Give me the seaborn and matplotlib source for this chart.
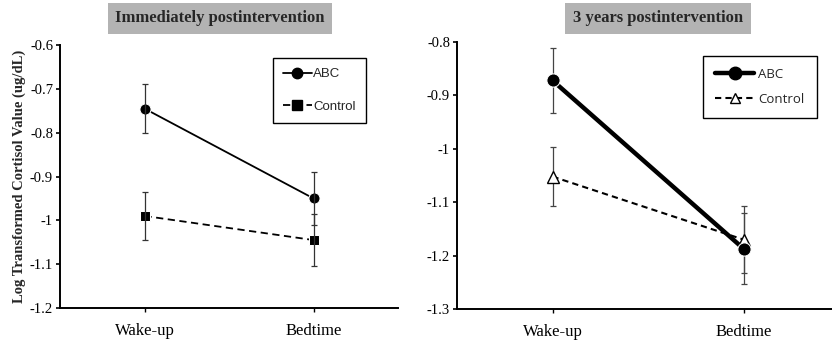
import pandas as pd
import seaborn as sns
import matplotlib
matplotlib.use("Agg")
import matplotlib.pyplot as plt
from matplotlib.lines import Line2D

# data
times = ["Wake-up", "Bedtime"]
groups = ["ABC", "Control"]

imm_abc = [-0.745, -0.950]
imm_abc_err = [0.055, 0.060]
imm_ctrl = [-0.990, -1.045]
imm_ctrl_err = [0.055, 0.060]

yr3_abc = [-0.872, -1.187]
yr3_abc_err = [0.061, 0.066]
yr3_ctrl = [-1.052, -1.170]
yr3_ctrl_err = [0.056, 0.062]

imm_yticks = [-0.6, -0.7, -0.8, -0.9, -1.0, -1.1, -1.2]
yr3_yticks = [-0.8, -0.9, -1.0, -1.1, -1.2, -1.3]

sns.set_style("ticks")
plt.rcParams["font.family"] = ["Liberation Serif", "DejaVu Serif"]

fig = plt.figure(figsize=(8.32, 3.41), dpi=100)
W, H = 832.0, 341.0


def ax_at(x0, y0, x1, y1):
    return fig.add_axes([x0 / W, 1 - y1 / H, (x1 - x0) / W, (y1 - y0) / H])


def tick_fmt(v):
    s = ("%.1f" % v)
    if s.endswith(".0"):
        s = s[:-2]
    return s


def style_axis(ax, yticks, ylim):
    ax.set_xlim(-0.5, 1.5)
    ax.set_ylim(*ylim)
    ax.set_xticks([0, 1])
    ax.set_xticklabels(times, fontsize=12)
    ax.set_yticks(yticks)
    ax.set_yticklabels([tick_fmt(v) for v in yticks], fontsize=10.5)
    ax.set_xlabel("")
    ax.set_ylabel("")
    for s in ["top", "right"]:
        ax.spines[s].set_visible(False)
    for s in ["left", "bottom"]:
        ax.spines[s].set_linewidth(1.4)
        ax.spines[s].set_color("black")
    ax.tick_params(axis="y", direction="out", length=3, width=1.2, pad=2, colors="black")
    ax.tick_params(axis="x", direction="out", length=3, width=1.0, pad=8, colors="black")


def title_box(x_center, text):
    fig.text(x_center / W, 1 - 18 / H, text, ha="center", va="center",
             fontsize=12, fontweight="bold", family=["Liberation Serif"],
             bbox=dict(boxstyle="square,pad=0.45", facecolor="#b3b3b3", edgecolor="none"))


# styles per panel and group
imm_style = {
    "ABC": dict(color="black", lw=1.3, ls="-", marker="o", ms=8),
    "Control": dict(color="black", lw=1.3, ls=(0, (4, 2.5)), marker="s", ms=7.5),
}
yr3_style = {
    "ABC": dict(color="black", lw=3.2, ls="-", marker="o", ms=9.5),
    "Control": dict(color="black", lw=1.5, ls=(0, (3, 2)), marker="^", ms=8,
                    mfc="white", mec="black", mew=1.0),
}


def handles_for(styles, ms_override):
    out = []
    for g in groups:
        st = dict(styles[g])
        st["ms"] = ms_override[g]
        out.append(Line2D([], [], **st))
    return out


# ---- left panel: immediately postintervention ----
ax1 = ax_at(60, 45, 398, 308)
df_imm = pd.DataFrame({
    "time": [0, 1, 0, 1],
    "value": imm_abc + imm_ctrl,
    "group": ["ABC"] * 2 + ["Control"] * 2,
})
for g in groups:
    sns.lineplot(data=df_imm[df_imm.group == g], x="time", y="value", ax=ax1,
                 legend=False, **imm_style[g])
ax1.errorbar([0, 1], imm_abc, yerr=imm_abc_err, fmt="none", ecolor="#333333",
             elinewidth=0.9, capsize=2.5, capthick=0.9)
ax1.errorbar([0, 1], imm_ctrl, yerr=imm_ctrl_err, fmt="none", ecolor="#333333",
             elinewidth=0.9, capsize=2.5, capthick=0.9)
style_axis(ax1, imm_yticks, (-1.2, -0.6))
ax1.set_ylabel("Log Transformed Cortisol Value (ug/dL)", fontsize=10.5,
               fontweight="bold", labelpad=3)
leg1 = ax1.legend(handles_for(imm_style, {"ABC": 7.5, "Control": 7.5}), groups,
                  loc="upper left", bbox_to_anchor=(273 / W, 1 - 58 / H),
                  bbox_transform=fig.transFigure, borderaxespad=0, frameon=True,
                  fancybox=False, edgecolor="black", framealpha=1,
                  prop={"family": "Liberation Sans", "size": 9.5},
                  handlelength=2.2, handletextpad=0.1, labelspacing=1.55,
                  borderpad=0.75)
leg1.get_frame().set_linewidth(1.0)
title_box(220, "Immediately postintervention")

# ---- right panel: 3 years postintervention ----
ax2 = ax_at(457, 42, 839, 309)
df_yr3 = pd.DataFrame({
    "time": [0, 1, 0, 1],
    "value": yr3_abc + yr3_ctrl,
    "group": ["ABC"] * 2 + ["Control"] * 2,
})
ax2.errorbar([0, 1], yr3_abc, yerr=yr3_abc_err, fmt="none", ecolor="#444444",
             elinewidth=0.9, capsize=2.5, capthick=0.9)
ax2.errorbar([0, 1], yr3_ctrl, yerr=yr3_ctrl_err, fmt="none", ecolor="#444444",
             elinewidth=0.9, capsize=2.5, capthick=0.9)
for g in ["Control", "ABC"]:
    sns.lineplot(data=df_yr3[df_yr3.group == g], x="time", y="value", ax=ax2,
                 legend=False, **yr3_style[g])
style_axis(ax2, yr3_yticks, (-1.3, -0.8))
leg2 = ax2.legend(handles_for(yr3_style, {"ABC": 9, "Control": 7}), groups,
                  loc="upper left", bbox_to_anchor=(703 / W, 1 - 56 / H),
                  bbox_transform=fig.transFigure, borderaxespad=0, frameon=True,
                  fancybox=False, edgecolor="black", framealpha=1,
                  prop={"family": "Open Sans", "size": 9.5},
                  handlelength=3.0, handletextpad=0.3, labelspacing=0.9,
                  borderpad=0.9)
leg2.get_frame().set_linewidth(1.0)
title_box(658, "3 years postintervention")

fig.savefig("out.png", dpi=100)
